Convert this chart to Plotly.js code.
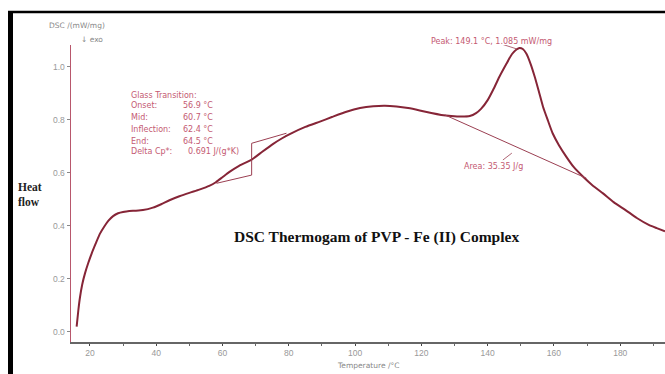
<!DOCTYPE html>
<html>
<head>
<meta charset="utf-8">
<script src="https://cdn.plot.ly/plotly-3.0.1.min.js"></script>
<style>
html,body{margin:0;padding:0;background:#fff;}
#chart{width:665px;height:374px;}
</style>
</head>
<body>
<div id="chart"></div>
<script>
// Temperature (°C) and DSC heat flow (mW/mg)
const temperature = [16.0,16.5,17.0,17.7,18.5,19.5,20.5,21.8,23.0,24.3,25.6,27.0,28.5,30.0,33.0,36.0,39.0,41.5,44.0,47.0,50.0,53.0,56.0,58.0,60.0,62.0,65.0,68.8,72.0,75.3,78.0,80.3,85.0,89.4,93.0,97.4,101.5,105.5,109.0,112.5,116.0,119.5,123.0,126.0,129.0,132.0,134.6,136.5,138.0,140.0,141.7,143.5,145.7,147.3,148.7,149.6,150.6,151.7,153.0,154.2,155.5,156.7,158.2,159.6,161.5,163.8,166.0,168.8,171.5,174.8,178.0,181.6,185.0,188.6,191.0,193.5];
const heatFlow = [0.02,0.08,0.13,0.18,0.22,0.26,0.295,0.335,0.37,0.397,0.42,0.437,0.448,0.453,0.457,0.46,0.469,0.482,0.497,0.512,0.525,0.537,0.551,0.565,0.584,0.603,0.627,0.65,0.68,0.71,0.731,0.747,0.774,0.794,0.811,0.831,0.845,0.852,0.854,0.851,0.845,0.836,0.826,0.819,0.815,0.813,0.815,0.826,0.842,0.875,0.915,0.962,1.013,1.048,1.066,1.072,1.068,1.05,1.01,0.963,0.905,0.85,0.797,0.75,0.705,0.66,0.622,0.586,0.555,0.523,0.49,0.46,0.43,0.404,0.392,0.38];

// Glass transition construction lines (T, DSC)
const gtBracketT = [58.2, 68.8, 68.8, 79.3];
const gtBracketV = [0.561, 0.592, 0.712, 0.75];
// Peak integration baseline
const baseT = [127.1, 169.8];
const baseV = [0.819, 0.58];
// Leader lines
const peakLeadT = [143.1, 148.8];
const peakLeadV = [1.091, 1.068];
const areaLeadT = [144.6, 147.3];
const areaLeadV = [0.649, 0.675];

const xTicks = [20,40,60,80,100,120,140,160,180];
const yTicks = [0.0,0.2,0.4,0.6,0.8,1.0];

const gtLabels = ["Onset:", "Mid:", "Inflection:", "End:", "Delta Cp*:"];
const gtValues = ["56.9 °C", "60.7 °C", "62.4 °C", "64.5 °C", "0.691 J/(g*K)"];

const curveColor = '#862537';
const annColor = '#c45a72';
const thinColor = '#9b3f52';

const traces = [
  {x: temperature, y: heatFlow, mode: 'lines', line: {color: curveColor, width: 2, shape: 'spline', smoothing: 0.5}, hoverinfo: 'skip'},
  {x: gtBracketT, y: gtBracketV, mode: 'lines', line: {color: thinColor, width: 1}, hoverinfo: 'skip'},
  {x: baseT, y: baseV, mode: 'lines', line: {color: thinColor, width: 1}, hoverinfo: 'skip'},
  {x: peakLeadT, y: peakLeadV, mode: 'lines', line: {color: thinColor, width: 0.8}, hoverinfo: 'skip'},
  {x: areaLeadT, y: areaLeadV, mode: 'lines', line: {color: thinColor, width: 0.8}, hoverinfo: 'skip'}
];

// pixel helpers for paper coordinates
const L = 71, R = 665, T = 45, B = 342;
const px = v => (v - L) / (R - L);
const py = v => (B - v) / (B - T);

const small = {family: 'DejaVu Sans, Verdana, sans-serif', size: 8, color: annColor};
const greyFont = {family: 'DejaVu Sans, Verdana, sans-serif', size: 7.5, color: '#888'};
const annotations = [];
annotations.push({xref:'paper', yref:'paper', x: px(129), y: py(95), xanchor:'left', yanchor:'middle', text:'Glass Transition:', showarrow:false, font: small});
const rowsY = [106, 117.7, 129.5, 141, 151.7];
gtLabels.forEach((t, i) => {
  annotations.push({xref:'paper', yref:'paper', x: px(129), y: py(rowsY[i]), xanchor:'left', yanchor:'middle', text:t, showarrow:false, font: small});
  annotations.push({xref:'paper', yref:'paper', x: px(i === 4 ? 186 : 181), y: py(rowsY[i]), xanchor:'left', yanchor:'middle', text:gtValues[i], showarrow:false, font: small});
});
annotations.push({xref:'paper', yref:'paper', x: px(429), y: py(42), xanchor:'left', yanchor:'middle', text:'Peak: 149.1 °C, 1.085 mW/mg', showarrow:false, font: small});
annotations.push({xref:'paper', yref:'paper', x: px(462), y: py(166), xanchor:'left', yanchor:'middle', text:'Area: 35.35 J/g', showarrow:false, font: small});
annotations.push({xref:'paper', yref:'paper', x: px(376), y: py(237), xanchor:'center', yanchor:'middle', text:'<b>DSC Thermogam of PVP - Fe (II) Complex</b>', showarrow:false, font: {family:'Liberation Serif, Times New Roman, serif', size: 15.5, color:'#111'}});
annotations.push({xref:'paper', yref:'paper', x: px(16), y: py(195), xanchor:'left', yanchor:'middle', align:'left', text:'<b>Heat<br>flow</b>', showarrow:false, font: {family:'Liberation Serif, Times New Roman, serif', size: 11.5, color:'#222'}});
annotations.push({xref:'paper', yref:'paper', x: px(107), y: py(25), xanchor:'right', yanchor:'middle', text:'DSC /(mW/mg)', showarrow:false, font: greyFont});
annotations.push({xref:'paper', yref:'paper', x: px(105), y: py(39), xanchor:'right', yanchor:'middle', text:'↓ exo', showarrow:false, font: greyFont});
annotations.push({xref:'paper', yref:'paper', x: px(335), y: py(365), xanchor:'left', yanchor:'middle', text:'Temperature /°C', showarrow:false, font: greyFont});

const shapes = [
  {type:'rect', xref:'paper', yref:'paper', x0: px(8), x1: px(13), y0: py(380), y1: py(11), fillcolor:'#000', line:{width:0}, layer:'above'},
  {type:'line', xref:'paper', yref:'paper', x0: px(8), x1: px(665), y0: py(12), y1: py(12), line:{color:'#000', width:2.5}, layer:'above'}
];

const tickFont = {family: 'Liberation Sans, Arial, sans-serif', size: 8.5, color: '#999'};
const layout = {
  width: 665, height: 374,
  margin: {l: L, r: 0, t: T, b: 374 - B},
  paper_bgcolor: '#fff', plot_bgcolor: '#fff',
  showlegend: false,
  xaxis: {
    range: [14.3, 193.5], showgrid: false, zeroline: false,
    showline: true, linecolor: '#666', linewidth: 2,
    tickmode: 'array', tickvals: xTicks, ticktext: xTicks.map(String),
    ticks: 'outside', ticklen: 2, tickcolor: '#444', tickwidth: 1,
    minor: {dtick: 10, tick0: 10, ticks: 'outside', ticklen: 2, tickcolor: '#666', showgrid: false},
    tickfont: tickFont,
    fixedrange: true
  },
  yaxis: {
    range: [-0.038, 1.083], showgrid: false, zeroline: false,
    showline: true, linecolor: '#b8576c', linewidth: 1.5,
    tickmode: 'array', tickvals: yTicks, ticktext: yTicks.map(v => v.toFixed(1)),
    ticks: 'outside', ticklen: 3, tickcolor: '#888', tickwidth: 1,
    tickfont: tickFont,
    fixedrange: true
  },
  annotations: annotations,
  shapes: shapes
};

Plotly.newPlot('chart', traces, layout, {displayModeBar: false, staticPlot: true});
</script>
</body>
</html>
